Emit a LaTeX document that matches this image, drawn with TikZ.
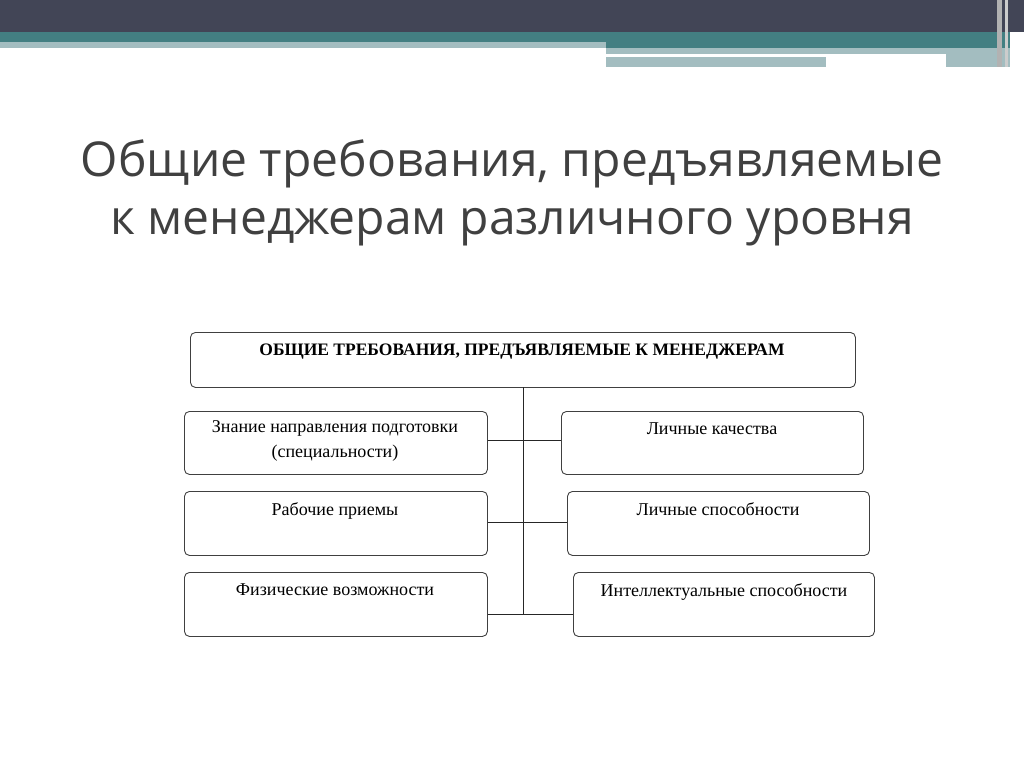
\documentclass[tikz,border=0pt]{standalone}
\usepackage{fontspec}
\setmainfont{Liberation Serif}
\newfontfamily\titlefont{Open Sans}
\begin{document}
\begin{tikzpicture}[x=1pt,y=-1pt,
  bx/.style={draw=black!75,line width=0.9pt,rounded corners=5pt,anchor=north west,inner sep=0pt},
  lbl/.style={font=\fontsize{18}{25}\selectfont,align=center,anchor=north},
  ln/.style={draw=black!85,line width=1pt}]
\useasboundingbox (0,0) rectangle (1024,767);
\fill[white] (0,0) rectangle (1024,767);
\definecolor{dk}{HTML}{424556}\definecolor{tl}{HTML}{437F82}\definecolor{lt}{HTML}{A3BDC0}
\fill[dk] (0,0) rectangle (1024,32);
\fill[tl] (0,32) rectangle (1010,48);
\fill[lt] (0,42) rectangle (606,48);
\fill[lt] (606,48) rectangle (1010,54);
\fill[lt] (606,57) rectangle (826,67);
\fill[lt] (946,54) rectangle (1010,67);
\fill[gray!60] (997,0) rectangle (1002,67);
\fill[gray!40] (1005,0) rectangle (1008,67);
\node[font=\titlefont\fontsize{48}{58}\selectfont,text=black!75,align=center] (title) at (512,193) {Общие требования, предъявляемые\\к менеджерам различного уровня};
\node[bx,minimum width=665,minimum height=55] (top) at (190,332) {};
\node[lbl,font=\bfseries\fontsize{17.5}{20}\selectfont] (topt) at (522,340) {ОБЩИЕ ТРЕБОВАНИЯ, ПРЕДЪЯВЛЯЕМЫЕ К МЕНЕДЖЕРАМ};
\node[bx,minimum width=303,minimum height=63] (l1) at (184,411) {};
\node[bx,minimum width=303,minimum height=64] (l2) at (184,491) {};
\node[bx,minimum width=303,minimum height=64] (l3) at (184,572) {};
\node[bx,minimum width=302,minimum height=63] (r1) at (561,411) {};
\node[bx,minimum width=302,minimum height=64] (r2) at (567,491) {};
\node[bx,minimum width=301,minimum height=64] (r3) at (573,572) {};
\node[lbl] at (335,417) {Знание направления подготовки\\(специальности)};
\node[lbl] at (335,499) {Рабочие приемы};
\node[lbl] at (335,580) {Физические возможности};
\node[lbl] at (712,419) {Личные качества};
\node[lbl] at (718,499) {Личные способности};
\node[lbl] at (724,580) {Интеллектуальные способности};
\coordinate (s0) at (523,387);
\coordinate (s1) at (523,440);
\coordinate (s2) at (523,522);
\coordinate (s3) at (523,614);
\draw[ln] (s0) -- (s3);
\draw[ln] (l1.east |- s1) -- (r1.west |- s1);
\draw[ln] (l2.east |- s2) -- (r2.west |- s2);
\draw[ln] (l3.east |- s3) -- (r3.west |- s3);
\end{tikzpicture}
\end{document}
